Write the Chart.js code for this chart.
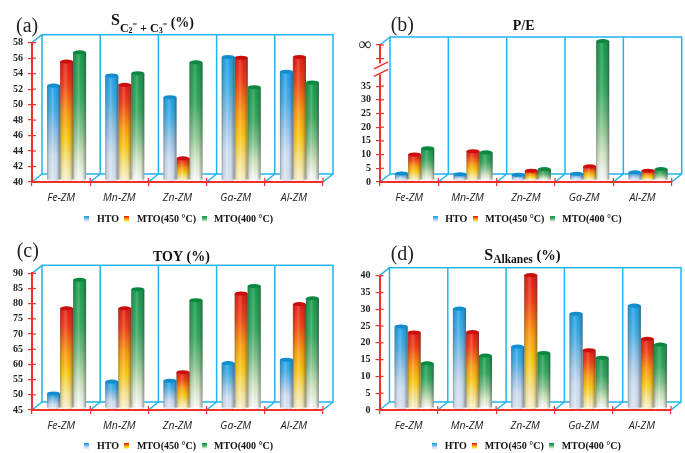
<!DOCTYPE html>
<html>
<head>
<meta charset="utf-8">
<script src="https://cdn.jsdelivr.net/npm/chart.js@4"></script>
<style>
html, body { margin: 0; padding: 0; background: #fff; }
canvas { position: absolute; }
</style>
</head>
<body>
<canvas id="chartA" width="345" height="226" style="left:0;top:0"></canvas>
<canvas id="chartB" width="340" height="226" style="left:345px;top:0"></canvas>
<canvas id="chartC" width="345" height="225" style="left:0;top:228px"></canvas>
<canvas id="chartD" width="340" height="225" style="left:345px;top:228px"></canvas>
<script>
var categories = ['Fe-ZM', 'Mn-ZM', 'Zn-ZM', 'Ga-ZM', 'Al-ZM'];
var seriesNames = ['HTO', 'MTO(450 °C)', 'MTO(400 °C)'];

var selectivityHTO = [52.2, 53.5, 50.7, 55.9, 54.0];
var selectivity450 = [55.3, 52.3, 42.8, 55.8, 55.9];
var selectivity400 = [56.5, 53.8, 55.2, 52.0, 52.6];

var peHTO = [2.4, 2.1, 1.9, 2.3, 2.8];
var pe450 = [9.3, 10.5, 3.4, 5.0, 3.4];
var pe400 = [11.6, 10.1, 4.0, 50.7, 4.0];

var toyHTO = [49.8, 53.7, 54.0, 59.8, 60.9];
var toy450 = [77.8, 77.8, 56.8, 82.7, 79.2];
var toy400 = [87.2, 84.1, 80.5, 85.2, 81.1];

var alkanesHTO = [24.3, 29.6, 18.3, 28.1, 30.5];
var alkanes450 = [22.5, 22.6, 39.6, 17.2, 20.6];
var alkanes400 = [13.3, 15.6, 16.4, 15.0, 18.9];

// P/E has a broken axis, the last tick stands for infinity
var peTickLabels = ['0', '5', '10', '15', '20', '25', '30', '35', '', '', '∞'];

var SERIF = '"Liberation Serif"';
var RED = '#f0312a';
var WALL = '#1fb4f2';
var DEPTH_X = 10, DEPTH_Y = 8;   // depth of the fake 3d box
var BAR_DX = 5.5, BAR_DY = -2;   // bars stand a bit inside the box

var stops = [
    [[0, '#14a0ea'], [0.25, '#3eaee8'], [0.5, '#8fc3ea'], [0.75, '#cfe0f5'], [1, '#dbe7f5']],
    [[0, '#e8110e'], [0.2, '#f43b0c'], [0.45, '#ff9a05'], [0.65, '#ffcb0c'], [0.85, '#fbe68a'], [1, '#fff6cf']],
    [[0, '#0e9a48'], [0.35, '#2fa85c'], [0.6, '#7fc48c'], [0.8, '#cfe6c0'], [1, '#ffffff']]
];

function barFill(i) {
    return function (ctx) {
        var chart = ctx.chart;
        if (!chart.chartArea || ctx.raw === undefined) return stops[i][0][1];
        var top = chart.scales.y.getPixelForValue(ctx.raw);
        var g = chart.ctx.createLinearGradient(0, top, 0, chart.chartArea.bottom);
        stops[i].forEach(function (s) { g.addColorStop(s[0], s[1]); });
        return g;
    };
}

function legendIcon(i) {
    var c = document.createElement('canvas');
    c.width = 5; c.height = 6;
    var x = c.getContext('2d');
    var g = x.createLinearGradient(0, 0, 0, 6);
    stops[i].forEach(function (s) { g.addColorStop(s[0], s[1]); });
    x.fillStyle = g;
    x.fillRect(0, 0, 5, 6);
    return c;
}

function line(ctx, x1, y1, x2, y2) {
    ctx.beginPath();
    ctx.moveTo(x1, y1);
    ctx.lineTo(x2, y2);
    ctx.stroke();
}

// back wall and floor of the box
var boxPlugin = {
    id: 'box',
    beforeDraw: function (chart) {
        var a = chart.chartArea, ctx = chart.ctx, n = categories.length;
        ctx.save();
        ctx.strokeStyle = WALL;
        ctx.lineWidth = 1.5;
        ctx.strokeRect(a.left + DEPTH_X, a.top - DEPTH_Y, a.width, a.height);
        line(ctx, a.left, a.top, a.left + DEPTH_X, a.top - DEPTH_Y);
        for (var i = 0; i <= n; i++) {
            var x = a.left + i * a.width / n;
            line(ctx, x, a.bottom, x + DEPTH_X, a.bottom - DEPTH_Y);
            if (i > 0 && i < n) line(ctx, x + DEPTH_X, a.top - DEPTH_Y, x + DEPTH_X, a.bottom - DEPTH_Y);
        }
        ctx.restore();
    },
    beforeDatasetDraw: function (chart) {
        chart.ctx.save();
        chart.ctx.translate(BAR_DX, BAR_DY);
    },
    afterDatasetDraw: function (chart, args) {
        var ctx = chart.ctx;
        args.meta.data.forEach(function (el) {
            var w = el.width, l = el.x - w / 2;
            var shade = ctx.createLinearGradient(l, 0, l + w, 0);
            shade.addColorStop(0, 'rgba(70,70,70,0.5)');
            shade.addColorStop(0.16, 'rgba(120,120,120,0.12)');
            shade.addColorStop(0.42, 'rgba(255,255,255,0.22)');
            shade.addColorStop(0.68, 'rgba(120,120,120,0.05)');
            shade.addColorStop(1, 'rgba(40,40,40,0.5)');
            ctx.fillStyle = shade;
            ctx.fillRect(l, el.y, w, el.base - el.y);
            // rounded foot and top of the cylinder
            ctx.beginPath();
            ctx.ellipse(el.x, el.base, w / 2, 1.6, 0, 0, Math.PI);
            ctx.fillStyle = stops[args.index][stops[args.index].length - 1][1];
            ctx.fill();
            ctx.fillStyle = shade;
            ctx.fill();
            ctx.beginPath();
            ctx.ellipse(el.x, el.y, w / 2, 2, 0, 0, Math.PI * 2);
            ctx.fillStyle = stops[args.index][0][1];
            ctx.fill();
            ctx.fillStyle = 'rgba(0,0,0,0.12)';
            ctx.fill();
        });
        ctx.restore();
    },
    afterDraw: function (chart) {
        var a = chart.chartArea, ctx = chart.ctx, o = chart.options.plugins.box, n = categories.length;
        ctx.save();
        // inner half of the tick crosses
        ctx.strokeStyle = RED;
        ctx.lineWidth = 1.2;
        chart.scales.y.ticks.forEach(function (t) {
            if (o.breakAt === t.value) return;
            var y = chart.scales.y.getPixelForValue(t.value);
            line(ctx, a.left, y, a.left + 4, y);
        });
        for (var i = 0; i <= n; i++) {
            var x = a.left + i * a.width / n;
            line(ctx, x, a.bottom, x, a.bottom - 4);
        }
        if (o.breakAt !== undefined) {
            var b = chart.scales.y.getPixelForValue(o.breakAt) - 1;
            ctx.fillStyle = '#fff';
            ctx.fillRect(a.left - 3, b - 8, 6, 11);
            ctx.lineWidth = 1.6;
            line(ctx, a.left - 6, b - 2.5, a.left + 8, b - 9.5);
            line(ctx, a.left - 6, b + 5, a.left + 8, b - 2);
        }
        // panel letter and title, title runs flow left to right
        ctx.fillStyle = '#222';
        ctx.font = '20px ' + SERIF;
        ctx.fillText(o.letter[0], o.letter[1], o.letter[2]);
        ctx.fillStyle = '#111';
        var tx = o.titleX;
        o.title.forEach(function (r) {
            ctx.font = 'bold ' + r[1] + 'px ' + SERIF;
            ctx.fillText(r[0], tx, r[2]);
            tx += ctx.measureText(r[0]).width;
        });
        ctx.restore();
    }
};

function makePanel(id, values, y, box, layout) {
    return new Chart(document.getElementById(id), {
        type: 'bar',
        data: {
            labels: categories,
            datasets: values.map(function (v, i) {
                return { label: seriesNames[i], data: v, base: y.min, backgroundColor: barFill(i), clip: false };
            })
        },
        plugins: [boxPlugin],
        options: {
            responsive: false,
            animation: false,
            devicePixelRatio: 1,
            categoryPercentage: 0.67,
            barPercentage: 1,
            layout: { padding: { left: 0, right: layout.right, top: layout.top, bottom: -8 } },
            scales: {
                x: {
                    afterFit: function (s) { s.height = layout.xHeight; },
                    grid: { drawOnChartArea: false, color: RED, tickLength: 4, lineWidth: 1.2, offset: true },
                    border: { color: RED, width: 2 },
                    ticks: {
                        color: '#222', padding: 6, maxRotation: 0,
                        font: { family: '"Open Sans"', size: 10.5, style: 'italic' }
                    }
                },
                y: {
                    min: y.min,
                    max: y.max,
                    afterFit: function (s) { s.width = layout.left; },
                    grid: {
                        drawOnChartArea: false, lineWidth: 1.2, tickLength: 4,
                        color: function (c) { return c.tick && c.tick.value === box.breakAt ? 'rgba(0,0,0,0)' : RED; }
                    },
                    border: { color: RED, width: 2 },
                    ticks: {
                        stepSize: y.step,
                        autoSkip: false,
                        color: '#222',
                        padding: 5,
                        font: function (c) {
                            if (c.tick && y.labels && c.tick.value === y.max) return { family: SERIF, size: 18 };
                            return { family: SERIF, size: 10, weight: 'bold' };
                        },
                        callback: function (v, i) { return y.labels ? y.labels[i] : v; }
                    }
                }
            },
            plugins: {
                tooltip: { enabled: false },
                box: box,
                legend: {
                    position: 'bottom',
                    fullSize: false,
                    labels: {
                        usePointStyle: true,
                        padding: 3,
                        color: '#111',
                        font: { family: SERIF, size: 10, weight: 'bold' },
                        generateLabels: function () {
                            return seriesNames.map(function (name, i) {
                                return { text: name, pointStyle: legendIcon(i), datasetIndex: i, fontColor: '#111', lineWidth: 0 };
                            });
                        }
                    }
                }
            }
        }
    });
}

makePanel('chartA', [selectivityHTO, selectivity450, selectivity400],
    { min: 40, max: 58, step: 2 },
    {
        letter: ['(a)', 16, 27], titleX: 111,
        title: [['S', 16, 21], ['C', 12, 29], ['2', 8, 31], ['=', 8, 25], [' + ', 12, 29], ['C', 12, 29], ['3', 8, 31], ['=', 8, 25], [' (%)', 14, 23]]
    },
    { left: 32, right: 22, top: 42.7, xHeight: 29 });

makePanel('chartB', [peHTO, pe450, pe400],
    { min: 0, max: 50, step: 5, labels: peTickLabels },
    { letter: ['(b)', 45.7, 26], titleX: 167.7, title: [['P/E', 14, 26.7]], breakAt: 40 },
    { left: 35, right: 13.3, top: 45, xHeight: 29 });

makePanel('chartC', [toyHTO, toy450, toy400],
    { min: 45, max: 90, step: 5 },
    { letter: ['(c)', 16.7, 24], titleX: 153, title: [['TOY (%)', 14, 29]] },
    { left: 32, right: 22, top: 45.3, xHeight: 28 });

makePanel('chartD', [alkanesHTO, alkanes450, alkanes400],
    { min: 0, max: 40, step: 5 },
    { letter: ['(d)', 45.7, 26.7], titleX: 139.3, title: [['S', 16, 28], ['Alkanes', 11.5, 31.7], [' (%)', 14.5, 28]] },
    { left: 34.5, right: 14, top: 47.7, xHeight: 28 });
</script>
</body>
</html>
